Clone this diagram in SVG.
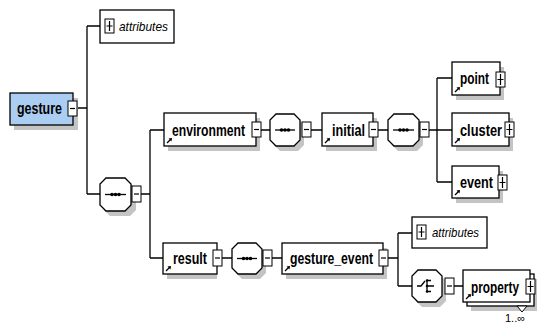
<svg xmlns="http://www.w3.org/2000/svg" width="537" height="326" viewBox="0 0 537 326">
<defs>
<style>
.box{fill:#fff;stroke:#000;stroke-width:1.3}
.root{fill:#abcdf2;stroke:#000;stroke-width:1.3}
.sh{fill:#c4c4c4;stroke:none}
.ln{fill:none;stroke:#000;stroke-width:1.3}
.pm{fill:#fff;stroke:#000;stroke-width:1}
.pmline{stroke:#000;stroke-width:1.2}
.el{font-family:"Liberation Sans",Arial,sans-serif;font-weight:bold;font-size:17px;fill:#000}
.at{font-family:"Liberation Sans",Arial,sans-serif;font-style:italic;font-size:13px;fill:#000}
.occ{font-family:"Liberation Sans",Arial,sans-serif;font-size:11px;fill:#000}
.ref{fill:none;stroke:#000;stroke-width:1.3}
.dot{fill:#000}
</style>
<g id="refmark"><path class="ref" d="M0,0 L4,-4"/><path d="M5,-5 L1.5,-4.5 L4.5,-1.5 Z" fill="#000"/></g>
</defs>

<g id="connectors">
<path class="ln" d="M77,108 H87 M87,26 V194 M87,26 H100 M87,194 H100"/>
<path class="ln" d="M141,194 H150 M150,130 V258 M150,130 H164 M150,258 H163"/>
<path class="ln" d="M261,130 H270 M311,130 H322 M378,130 H388 M429,130 H437 M437,78 V182 M437,78 H452 M437,130 H452 M437,182 H452"/>
<path class="ln" d="M221,258 H232 M272,258 H282 M388,258 H398 M398,233 V286 M398,233 H412 M398,286 H412 M454,286 H463"/>
</g>

<g id="gesture">
<rect class="sh" x="14" y="98" width="64" height="32"/>
<rect class="root" x="10" y="93" width="63" height="32"/>
<text class="el" x="17" y="114" textLength="45" lengthAdjust="spacingAndGlyphs">gesture</text>
<rect class="pm" x="68" y="101" width="9" height="15"/>
<path class="pmline" d="M70,108.5 H75"/>
</g>

<g id="attributes1">
<rect class="box" x="100" y="10" width="74" height="33"/>
<rect class="pm" x="105" y="19" width="9" height="14"/>
<path class="pmline" d="M106.5,26 H112.5 M109.5,21 V31"/>
<text class="at" x="119" y="31" textLength="49" lengthAdjust="spacingAndGlyphs">attributes</text>
</g>

<g id="seq1">
<path class="sh" d="M110,183 H130 L136,189 V210 L130,216 H110 L104,210 V189 Z"/>
<path class="box" d="M106,178 H125 L131,184 V205 L125,211 H106 L100,205 V184 Z"/>
<path class="ln" d="M105,194.5 H126"/>
<circle class="dot" cx="112" cy="194.5" r="1.8"/><circle class="dot" cx="115.5" cy="194.5" r="1.8"/><circle class="dot" cx="119" cy="194.5" r="1.8"/>
<rect class="pm" x="132" y="186" width="9" height="16"/>
<path class="pmline" d="M134,194 H139"/>
</g>

<g id="environment">
<rect class="sh" x="168" y="118" width="92" height="33"/>
<rect class="box" x="164" y="113" width="92" height="33"/>
<text class="el" x="172" y="136" textLength="73" lengthAdjust="spacingAndGlyphs">environment</text>
<use href="#refmark" x="167" y="143"/>
<rect class="pm" x="252" y="122" width="9" height="15"/>
<path class="pmline" d="M254,129.5 H259"/>
</g>

<g id="seq2">
<path class="sh" d="M280,119 H298 L304,125 V145 L298,151 H280 L274,145 V125 Z"/>
<path class="box" d="M276,114 H294 L300,120 V140 L294,146 H276 L270,140 V120 Z"/>
<path class="ln" d="M275,130 H295"/>
<circle class="dot" cx="281.5" cy="130" r="1.8"/><circle class="dot" cx="285" cy="130" r="1.8"/><circle class="dot" cx="288.5" cy="130" r="1.8"/>
<rect class="pm" x="302" y="122" width="9" height="15"/>
<path class="pmline" d="M304,129.5 H309"/>
</g>

<g id="initial">
<rect class="sh" x="326" y="118" width="51" height="33"/>
<rect class="box" x="322" y="113" width="51" height="33"/>
<text class="el" x="332" y="136" textLength="33" lengthAdjust="spacingAndGlyphs">initial</text>
<use href="#refmark" x="325" y="143"/>
<rect class="pm" x="369" y="122" width="9" height="15"/>
<path class="pmline" d="M371,129.5 H376"/>
</g>

<g id="seq3">
<path class="sh" d="M398,119 H417 L423,125 V145 L417,151 H398 L392,145 V125 Z"/>
<path class="box" d="M394,114 H413 L419,120 V140 L413,146 H394 L388,140 V120 Z"/>
<path class="ln" d="M393,130 H414"/>
<circle class="dot" cx="400" cy="130" r="1.8"/><circle class="dot" cx="403.5" cy="130" r="1.8"/><circle class="dot" cx="407" cy="130" r="1.8"/>
<rect class="pm" x="420" y="122" width="9" height="15"/>
<path class="pmline" d="M422,129.5 H427"/>
</g>

<g id="point">
<rect class="sh" x="456" y="67" width="48" height="33"/>
<rect class="box" x="452" y="62" width="48" height="33"/>
<text class="el" x="460" y="84" textLength="29" lengthAdjust="spacingAndGlyphs">point</text>
<use href="#refmark" x="455" y="92"/>
<rect class="pm" x="496" y="72" width="9" height="15"/>
<path class="pmline" d="M497.5,79.5 H503.5 M500.5,74 V85"/>
</g>

<g id="cluster">
<rect class="sh" x="456" y="118" width="57" height="33"/>
<rect class="box" x="452" y="113" width="57" height="33"/>
<text class="el" x="460" y="136" textLength="42" lengthAdjust="spacingAndGlyphs">cluster</text>
<use href="#refmark" x="455" y="143"/>
<rect class="pm" x="505" y="122" width="9" height="15"/>
<path class="pmline" d="M506.5,129.5 H512.5 M509.5,124 V135"/>
</g>

<g id="event">
<rect class="sh" x="456" y="171" width="47" height="32"/>
<rect class="box" x="452" y="166" width="47" height="32"/>
<text class="el" x="460" y="188" textLength="33" lengthAdjust="spacingAndGlyphs">event</text>
<use href="#refmark" x="455" y="195"/>
<rect class="pm" x="498" y="175" width="9" height="15"/>
<path class="pmline" d="M499.5,182.5 H505.5 M502.5,177 V188"/>
</g>

<g id="result">
<rect class="sh" x="167" y="248" width="50" height="31"/>
<rect class="box" x="163" y="243" width="54" height="31"/>
<text class="el" x="173" y="264" textLength="34" lengthAdjust="spacingAndGlyphs">result</text>
<use href="#refmark" x="166" y="271"/>
<rect class="pm" x="213" y="250" width="9" height="16"/>
<path class="pmline" d="M215,258 H220"/>
</g>

<g id="seq4">
<path class="sh" d="M242,248 H260 L266,254 V273 L260,279 H242 L236,273 V254 Z"/>
<path class="box" d="M238,243 H256 L262,249 V268 L256,274 H238 L232,268 V249 Z"/>
<path class="ln" d="M237,258.5 H257"/>
<circle class="dot" cx="243.5" cy="258.5" r="1.8"/><circle class="dot" cx="247" cy="258.5" r="1.8"/><circle class="dot" cx="250.5" cy="258.5" r="1.8"/>
<rect class="pm" x="263" y="250" width="9" height="16"/>
<path class="pmline" d="M265,258 H270"/>
</g>

<g id="gesture_event">
<rect class="sh" x="286" y="248" width="101" height="31"/>
<rect class="box" x="282" y="243" width="101" height="31"/>
<text class="el" x="290" y="264" textLength="83" lengthAdjust="spacingAndGlyphs">gesture_event</text>
<use href="#refmark" x="285" y="271"/>
<rect class="pm" x="379" y="250" width="9" height="16"/>
<path class="pmline" d="M381,258 H386"/>
</g>

<g id="attributes2">
<rect class="box" x="412" y="217" width="75" height="31"/>
<rect class="pm" x="417" y="225" width="9" height="14"/>
<path class="pmline" d="M418.5,232 H424.5 M421.5,227 V237"/>
<text class="at" x="432" y="237" textLength="47" lengthAdjust="spacingAndGlyphs">attributes</text>
</g>

<g id="choice">
<path class="sh" d="M422,275 H440 L446,281 V301 L440,307 H422 L416,301 V281 Z"/>
<path class="box" d="M418,270 H436 L442,276 V296 L436,302 H418 L412,296 V276 Z"/>
<path class="ln" d="M417,286 H421 L425,281 M427,280.5 V291.5 M427,280.5 H431 M427,286 H434 M427,291.5 H431"/>
<circle class="dot" cx="427" cy="280.5" r="1.3"/><circle class="dot" cx="427" cy="286" r="1.3"/><circle class="dot" cx="427" cy="291.5" r="1.3"/>
<rect class="pm" x="445" y="278" width="9" height="16"/>
<path class="pmline" d="M447,286 H452"/>
</g>

<g id="property">
<rect class="sh" x="471" y="279" width="67" height="32"/>
<rect class="box" x="467" y="274" width="67" height="32"/>
<rect class="box" x="463" y="270" width="67" height="32"/>
<text class="el" x="471" y="293" textLength="48" lengthAdjust="spacingAndGlyphs">property</text>
<use href="#refmark" x="466" y="299"/>
<rect class="pm" x="526" y="279" width="9" height="15"/>
<path class="pmline" d="M527.5,286.5 H533.5 M530.5,281 V292"/>
<path class="pm" d="M517,306 H527 L522,312 Z"/>
<text class="occ" x="505" y="322">1..∞</text>
</g>
</svg>
